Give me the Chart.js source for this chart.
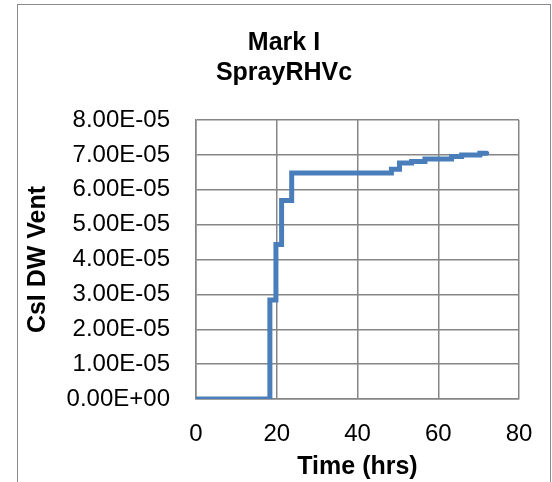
<!DOCTYPE html>
<html>
<head>
<meta charset="utf-8">
<script src="https://cdn.jsdelivr.net/npm/chart.js@4"></script>
<style>
  html, body { margin: 0; padding: 0; background: #fff; }
  #frame {
    position: absolute; left: 17px; top: 4px; width: 534px; height: 500px;
    border: 1.5px solid #8a8a8a; box-sizing: border-box;
  }
  #chart { position: absolute; left: 18px; top: 5px; }
</style>
</head>
<body>
<div id="frame"></div>
<canvas id="chart" width="532" height="477"></canvas>
<script>
'use strict';

// ── DATA ─────────────────────────────────────────────────────

const TITLE_LINES = ['Mark I', 'SprayRHVc'];
const X_LABEL = 'Time (hrs)';
const Y_LABEL = 'CsI DW Vent';

// time (hrs) at which each new value starts
const TIME  = [0, 18.3, 19.8, 21.2, 23.7, 48.4, 50.4, 53.4, 56.7, 63.3, 65.8, 70.3, 72.0];
const VENT  = [0, 2.84e-5, 4.43e-5, 5.69e-5, 6.48e-5, 6.59e-5, 6.77e-5, 6.81e-5, 6.88e-5, 6.95e-5, 7.00e-5, 7.05e-5, 7.05e-5];

const X_TICKS = [0, 20, 40, 60, 80];
const Y_MAX = 8e-5;
const Y_STEP = 1e-5;

// ── HELPERS ──────────────────────────────────────────────────

function sciLabel(v) {
  const s = Number(v).toExponential(2).toUpperCase();   // 8.00E-5
  const [m, e] = s.split('E');
  const sign = e[0] === '-' ? '-' : '+';
  const digits = e.replace(/[+-]/, '').padStart(2, '0');
  return `${m}E${sign}${digits}`;
}

const FONT = '"Liberation Sans", Arial, sans-serif';
const GRID = '#868686';

// ── CHART ────────────────────────────────────────────────────

new Chart(document.getElementById('chart'), {
  type: 'line',
  data: {
    datasets: [{
      data: TIME.map((t, i) => ({ x: t, y: VENT[i] })),
      borderColor: '#4a7ebb',
      borderWidth: 5,
      pointRadius: 0,
      stepped: 'before',
      fill: false,
      borderCapStyle: 'round'
    }]
  },
  options: {
    responsive: false,
    animation: false,
    layout: { padding: 0 },
    plugins: {
      legend: { display: false },
      tooltip: { enabled: false },
      title: {
        display: true,
        text: TITLE_LINES,
        color: '#000',
        font: { family: FONT, size: 25, weight: 'bold', lineHeight: 1.2 },
        padding: { top: 23, bottom: 32 }
      }
    },
    scales: {
      x: {
        type: 'linear',
        min: 0, max: 80,
        afterBuildTicks: s => { s.ticks = X_TICKS.map(v => ({ value: v })); },
        afterFit: s => { s.height = 83; s.paddingRight = 31; },
        grid: { color: GRID, lineWidth: 1.5, drawTicks: false },
        border: { color: GRID, width: 1.5 },
        ticks: {
          color: '#000', padding: 21,
          font: { family: FONT, size: 24 },
          maxRotation: 0
        },
        title: {
          display: true, text: X_LABEL, color: '#000',
          font: { family: FONT, size: 25, weight: 'bold', lineHeight: 1.2 },
          padding: { top: 0, bottom: 0 }
        }
      },
      y: {
        min: 0, max: Y_MAX,
        afterFit: s => { s.width = 178; },
        grid: { color: GRID, lineWidth: 1.5, drawTicks: false },
        border: { color: GRID, width: 1.5 },
        ticks: {
          color: '#000', padding: 26, stepSize: Y_STEP,
          font: { family: FONT, size: 24 },
          callback: v => sciLabel(v)
        },
        title: {
          display: true, text: Y_LABEL, color: '#000',
          font: { family: FONT, size: 25, weight: 'bold', lineHeight: 1.2 },
          padding: { top: 5, bottom: 0 }
        }
      }
    }
  }
});
</script>
</body>
</html>
